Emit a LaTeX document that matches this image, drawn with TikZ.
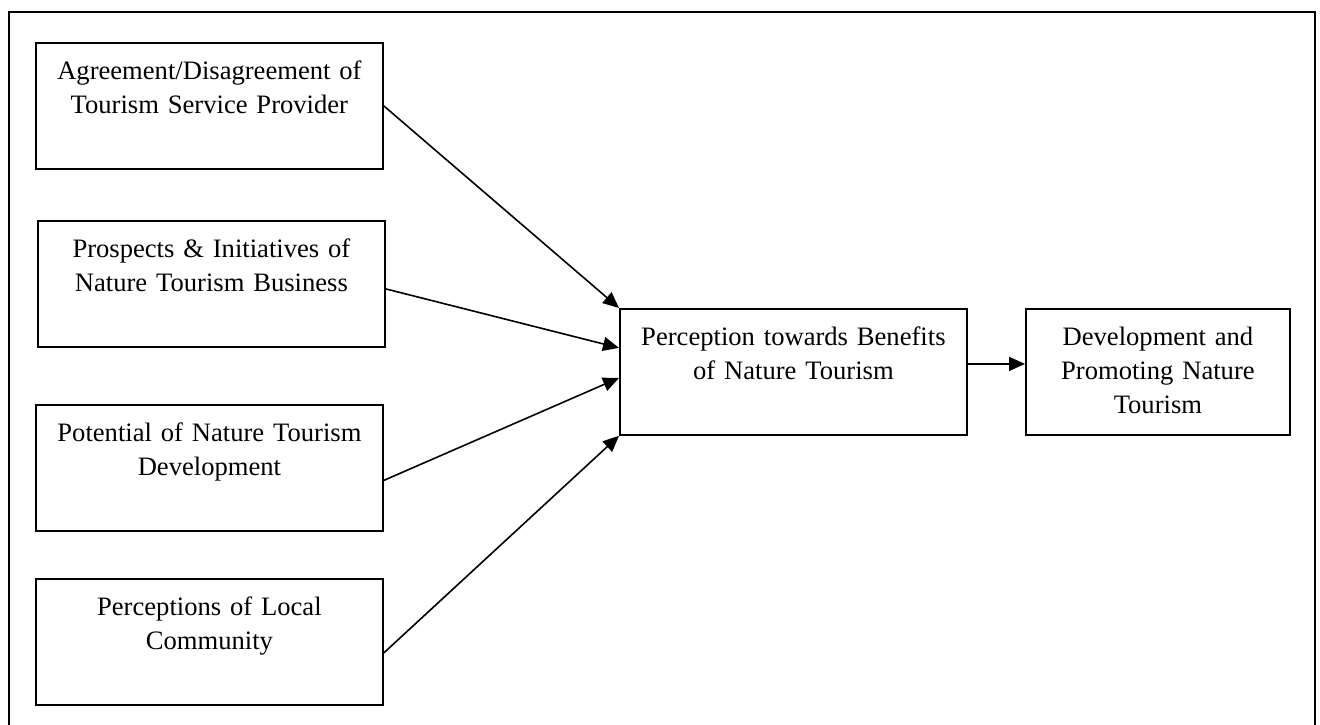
\documentclass[tikz,border=0pt]{standalone}
\usepackage{fontspec}
\setmainfont{Liberation Serif}
\usetikzlibrary{arrows.meta}
\begin{document}
\begin{tikzpicture}
		[x=0.5pt,y=-0.5pt,
		mybox/.style={draw,line width=0.9pt,anchor=north west,align=center,
			font=\fontsize{13.3}{17}\selectfont,text width=173.5pt,
			inner xsep=0pt,inner ysep=8pt,text height=10.5pt,text depth=36.5pt},
		myarrow/.style={line width=0.8pt,-{Triangle[length=8pt,width=7pt]}}]
		\useasboundingbox (0,0) rectangle (1320,724);
		\draw[line width=1pt] (9,730) -- (9,12) -- (1315,12) -- (1315,730);
		\node[mybox,name=1] at (35,42) {Agreement/Disagreement of\\Tourism Service Provider};
		\node[mybox,name=2] at (37,220) {Prospects \& Initiatives of\\Nature Tourism Business};
		\node[mybox,name=3] at (35,404) {Potential of Nature Tourism\\Development};
		\node[mybox,name=4] at (35,578) {Perceptions of Local\\Community};
		\node[mybox,name=5] at (619,308) {Perception towards Benefits\\of Nature Tourism};
		\node[mybox,name=6,text width=132pt] at (1025,308) {Development and\\Promoting Nature\\Tourism};
		\draw[myarrow] (1.east) -- (5.north west);
		\draw[myarrow] ([yshift=-2.5pt]2.east) -- ([yshift=12pt]5.west);
		\draw[myarrow] ([yshift=-6.25pt]3.east) -- ([yshift=-3pt]5.west);
		\draw[myarrow] ([yshift=-5.5pt]4.east) -- (5.south west);
		\draw[myarrow] ([yshift=4pt]5.east) -- ([yshift=4pt]6.west);
	\end{tikzpicture}
\end{document}
